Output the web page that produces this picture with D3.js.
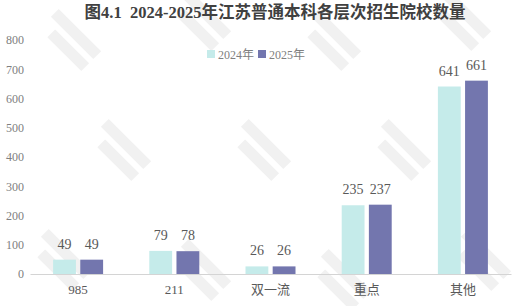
<!DOCTYPE html>
<html>
<head>
<meta charset="utf-8">
<script src="https://cdn.jsdelivr.net/npm/d3@7"></script>
<style>
  html, body { margin: 0; padding: 0; background: #fff; }
  svg { display: block; }
</style>
</head>
<body>
<div id="wrap"></div>
<script>
// 数据
const categories = ["985", "211", "双一流", "重点", "其他"];
const series2024 = [49, 79, 26, 235, 641];
const series2025 = [49, 78, 26, 237, 661];
const seriesNames = ["2024年", "2025年"];
const yTicks = [0, 100, 200, 300, 400, 500, 600, 700, 800];

const WIDTH = 519, HEIGHT = 306;
const COLORS = ["#c5ebea", "#7376ae"];
const SERIF = "'Liberation Serif', 'Noto Sans CJK SC', serif";

const svg = d3.select('#wrap').append('svg')
  .attr('width', WIDTH).attr('height', HEIGHT);

// 水印（只画斜条纹标志）
const wm = svg.append('g').attr('fill', '#f1f1f1');
const marks = [[70, 40], [200, 20], [330, 40], [460, 20], [120, 150], [260, 150], [400, 150], [60, 260], [200, 270], [340, 280], [480, 260]];
marks.forEach(([cx, cy]) => {
  const g = wm.append('g').attr('transform', `translate(${cx},${cy}) rotate(45)`);
  g.append('rect').attr('x', -30).attr('y', -14).attr('width', 60).attr('height', 11);
  g.append('rect').attr('x', -18).attr('y', 3).attr('width', 48).attr('height', 11);
});

// 比例尺
const x0 = d3.scaleBand().domain(categories).range([30, 511]);
const x1 = d3.scaleBand().domain([0, 1]).range([0, 50]).paddingInner(0.16);
const y = d3.scaleLinear().domain([0, 800]).range([274, 40]);

// y轴
const yAxis = svg.append('g')
  .attr('transform', 'translate(24,0)')
  .call(d3.axisLeft(y).tickValues(yTicks).tickSize(0).tickPadding(0));
yAxis.select('.domain').remove();
yAxis.selectAll('text').attr('font-family', SERIF).attr('font-size', 12).attr('fill', '#808080');

// x轴
const xAxis = svg.append('g')
  .attr('transform', 'translate(0,274)')
  .call(d3.axisBottom(x0).tickSize(0).tickPadding(11).tickSizeOuter(0));
xAxis.select('.domain').attr('stroke', '#d4d4d4').attr('stroke-width', 1);
xAxis.selectAll('text').attr('font-family', SERIF).attr('font-size', 13).attr('fill', '#595959');

// 柱子
const data = categories.map((k, i) => ({ key: k, values: [series2024[i], series2025[i]] }));
const groups = svg.append('g').selectAll('g').data(data).enter().append('g')
  .attr('transform', d => `translate(${x0(d.key) + x0.bandwidth() / 2 - 25},0)`);

groups.selectAll('rect').data(d => d.values.map((v, j) => ({ v, j }))).enter().append('rect')
  .attr('x', d => x1(d.j))
  .attr('width', x1.bandwidth())
  .attr('y', d => y(d.v))
  .attr('height', d => y(0) - y(d.v))
  .attr('fill', d => COLORS[d.j]);

groups.selectAll('text.val').data(d => d.values.map((v, j) => ({ v, j }))).enter().append('text')
  .attr('class', 'val')
  .attr('x', d => x1(d.j) + x1.bandwidth() / 2)
  .attr('y', d => y(d.v) - 11)
  .attr('text-anchor', 'middle')
  .attr('font-family', SERIF).attr('font-size', 14).attr('fill', '#595959')
  .text(d => d.v);

// 标题
svg.append('text')
  .attr('x', 275).attr('y', 18)
  .attr('text-anchor', 'middle')
  .attr('font-family', SERIF).attr('font-weight', 'bold').attr('font-size', 16.5)
  .attr('fill', '#404040')
  .attr('xml:space', 'preserve')
  .style('white-space', 'pre')
  .text('图4.1  2024-2025年江苏普通本科各层次招生院校数量');

// 图例
const legend = svg.append('g').attr('transform', 'translate(207,50)');
const lx = [0, 51];
seriesNames.forEach((n, i) => {
  legend.append('rect').attr('x', lx[i]).attr('y', 0).attr('width', 8).attr('height', 8).attr('fill', COLORS[i]);
  legend.append('text').attr('x', lx[i] + 11).attr('y', 8.5)
    .attr('font-family', SERIF).attr('font-size', 12).attr('fill', '#808080').text(n);
});
</script>
</body>
</html>
